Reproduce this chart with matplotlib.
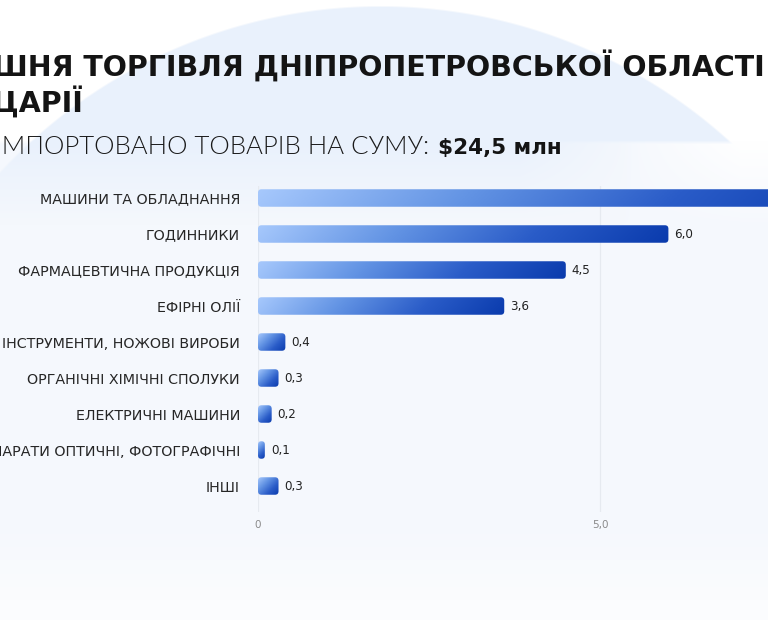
import numpy as np
import matplotlib
matplotlib.use("Agg")
import matplotlib.pyplot as plt
from matplotlib.patches import FancyBboxPatch
from matplotlib.colors import LinearSegmentedColormap

# ---------------- data ----------------
categories = [
    "МАШИНИ ТА ОБЛАДНАННЯ",
    "ГОДИННИКИ",
    "ФАРМАЦЕВТИЧНА ПРОДУКЦІЯ",
    "ЕФІРНІ ОЛІЇ",
    "ІНСТРУМЕНТИ, НОЖОВІ ВИРОБИ",
    "ОРГАНІЧНІ ХІМІЧНІ СПОЛУКИ",
    "ЕЛЕКТРИЧНІ МАШИНИ",
    "АПАРАТИ ОПТИЧНІ, ФОТОГРАФІЧНІ",
    "ІНШІ",
]
values = [9.1, 6.0, 4.5, 3.6, 0.4, 0.3, 0.2, 0.1, 0.3]
value_labels = ["9,1", "6,0", "4,5", "3,6", "0,4", "0,3", "0,2", "0,1", "0,3"]
xticks = [0, 5]
xtick_labels = ["0", "5,0"]
title_hidden = "ЗОВНІ"
title_line1 = "ЗОВНІШНЯ ТОРГІВЛЯ ДНІПРОПЕТРОВСЬКОЇ ОБЛАСТІ"
title_hidden2 = "ШВЕЙ"
title_line2 = "ШВЕЙЦАРІЇ"
subtitle_hidden = "І"
subtitle = "ІМПОРТОВАНО ТОВАРІВ НА СУМУ: "
subtitle_value = "$24,5 млн"

W, H = 768, 620
fig = plt.figure(figsize=(W / 100, H / 100), dpi=100)
renderer = fig.canvas.get_renderer()

# ---------------- background ----------------
yy, xx = np.mgrid[0:H, 0:W].astype(float)
white = np.array([1.0, 1.0, 1.0])
tint = np.array([245, 248, 253]) / 255
end = np.array([251, 252, 254]) / 255
circ = np.array([233, 241, 252]) / 255
band = np.clip((yy - 140) / 4, 0, 1)          # chart panel starts at y~140
t2 = np.clip((yy - 520) / 80, 0, 1)[..., None]
wfade = np.clip((xx - 620) / 120, 0, 1) * np.clip((230 - yy) / 90, 0, 1)
panel = tint * (1 - wfade[..., None]) + white * wfade[..., None]
panel = panel * (1 - t2) + end * t2
d = np.sqrt((xx - 380) ** 2 + (yy - 525) ** 2)
mask = np.clip((520 - d) / 2.0, 0, 1)
a_in = np.clip((225 - yy) / 85, 0, 1) * (1 - np.clip((xx - 520) / 120, 0, 1))
alpha = (1 - band) + a_in * band
base = white * (1 - band[..., None]) + panel * band[..., None]
m = (mask * alpha)[..., None]
bg = base * (1 - m) + circ * m
bgax = fig.add_axes([0, 0, 1, 1], zorder=-10)
bgax.imshow(bg, aspect="auto", extent=(0, W, H, 0), interpolation="bilinear")
bgax.set_xlim(0, W)
bgax.set_ylim(H, 0)
bgax.axis("off")

def px_w(s, **kw):
    t = fig.text(0, 0, s, **kw)
    w = t.get_window_extent(renderer).width
    t.remove()
    return w

# ---------------- titles ----------------
tfont = dict(family="DejaVu Sans", weight="bold", color="#141414")
vis1 = title_line1[len(title_hidden):]
fs_t = 10 * 776 / px_w(vis1, fontsize=10, **tfont)
off1 = px_w(title_hidden, fontsize=fs_t, **tfont)
fig.text((-7 - off1) / W, 1 - 77 / H, title_line1, fontsize=fs_t, ha="left", va="baseline", **tfont)
off2 = px_w(title_hidden2, fontsize=fs_t, **tfont)
fig.text((-7 - off2) / W, 1 - 113 / H, title_line2, fontsize=fs_t, ha="left", va="baseline", **tfont)

sfont = dict(family=["Lato", "DejaVu Sans"], weight=300, color="#1a1a1a")
vis_s = subtitle[len(subtitle_hidden):].rstrip()
fs_s = 10 * 428 / px_w(vis_s, fontsize=10, **sfont)
offs = px_w(subtitle_hidden, fontsize=fs_s, **sfont)
fig.text((2 - offs) / W, 1 - 154 / H, subtitle, fontsize=fs_s, ha="left", va="baseline", **sfont)
bfont = dict(family="DejaVu Sans", weight="bold", color="#141414")
fs_b = 10 * 124 / px_w(subtitle_value, fontsize=10, **bfont)
fig.text(438 / W, 1 - 154 / H, subtitle_value, fontsize=fs_b, ha="left", va="baseline", **bfont)

# ---------------- chart ----------------
ax_left, ax_right = 258, 768
ax_top, ax_bot = 186, 512
ax = fig.add_axes([ax_left / W, 1 - ax_bot / H, (ax_right - ax_left) / W, (ax_bot - ax_top) / H])
ax.set_facecolor("none")
pxu = 68.4
row = 36.0
xmax = (ax_right - ax_left) / pxu
y_top = -(198 - ax_top) / row
y_bot = (len(values) - 1) + (ax_bot - 486) / row

cmap = LinearSegmentedColormap.from_list("g", ["#a6c8fc", "#6394e4", "#2a5cc8", "#0a3bad"])
bh = 17.5 / row
for i, v in enumerate(values):
    wp = v * pxu
    hp = bh * row
    nx, ny = 200, 30
    u = np.linspace(0, 1, nx)[None, :]
    w_ = np.linspace(0, 1, ny)[:, None]
    tt = (u * wp + w_ * hp) / (wp + hp)
    im = ax.imshow(tt, cmap=cmap, vmin=0, vmax=1, aspect="auto",
                   extent=(0, v, i + bh / 2, i - bh / 2), origin="upper",
                   interpolation="bilinear", zorder=3)
    rpx = min(3.5, wp / 2 - 0.2)
    patch = FancyBboxPatch((0, i - bh / 2), v, bh,
                           boxstyle=f"round,pad=0,rounding_size={rpx / pxu}",
                           mutation_aspect=pxu / row,
                           transform=ax.transData, facecolor="none", edgecolor="none")
    ax.add_patch(patch)
    im.set_clip_path(patch)
    ax.text(v + 6 / pxu, i, value_labels[i], ha="left", va="center",
            fontsize=8.6, color="#222222", family="DejaVu Sans", zorder=4)

ax.set_xlim(0, xmax)
ax.set_ylim(y_bot, y_top)
ax.set_xticks(xticks)
ax.set_xticklabels(xtick_labels)
ax.set_yticks(range(len(categories)))
lfont = dict(family="DejaVu Sans", color="#262626")
fs_l = 10 * 200 / px_w(categories[0], fontsize=10, **lfont)
ax.set_yticklabels(categories, fontsize=fs_l, **lfont)
ax.tick_params(axis="y", length=0, pad=13)
ax.tick_params(axis="x", length=0, pad=6, labelsize=7.5, labelcolor="#8a8a8a")
for s in ax.spines.values():
    s.set_visible(False)
ax.grid(axis="x", color="#e6eaf0", linewidth=0.9, zorder=0)
ax.set_axisbelow(True)

fig.savefig("out.png", dpi=100)
